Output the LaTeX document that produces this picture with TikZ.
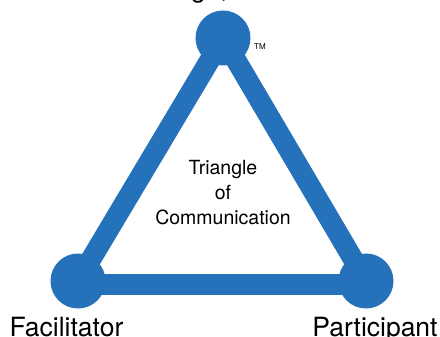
\documentclass[tikz,border=0pt]{standalone}
\usepackage{fontspec}
\setmainfont{TeX Gyre Heros}
\definecolor{triblue}{RGB}{37,113,186}
\begin{document}
\begin{tikzpicture}[x=1pt,y=-1pt,
  side/.style={draw=triblue,line width=20.5pt,line join=miter},
  vertex/.style={circle,fill=triblue,minimum size=55pt,inner sep=0pt},
  role/.style={font=\fontsize{26.5}{30}\selectfont,anchor=base,inner sep=0pt},
  centre/.style={font=\fontsize{19.5}{25}\selectfont,anchor=base,inner sep=0pt}]
\useasboundingbox (0,0) rectangle (440,337);
% corner points of the triangle
\coordinate (T) at (223,38);
\coordinate (L) at (78,281);
\coordinate (R) at (366,281);
\coordinate (barL) at (78,284.5);
\coordinate (barR) at (366,284.5);
% sides
\draw[side] (L) -- (T) -- (R);
\draw[side] (barL) -- (barR);
% corner discs
\node[vertex] (top) at (T) {};
\node[vertex] (left) at (L) {};
\node[vertex] (right) at (R) {};
% labels
\node[role,anchor=base west] (toplabel) at (138,-2) {Design,};
\node[role] (fac) at (66.5,336) {Facilitator};
\node[role] (par) at (375,336) {Participant};
\node[font=\fontsize{8}{9}\selectfont,anchor=base west,inner sep=0pt] (tm) at (254,50) {TM};
\node[centre] (l1) at (223,175) {Triangle};
\node[centre] (l2) at (223,199.5) {of};
\node[centre] (l3) at (223,225) {Communication};
\end{tikzpicture}
\end{document}
